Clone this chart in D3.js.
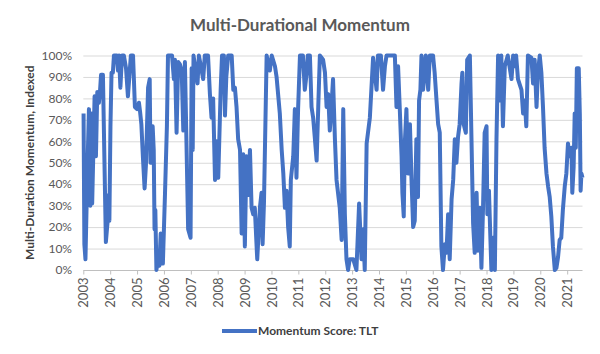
<!DOCTYPE html>
<html>
<head>
<meta charset="utf-8">
<script src="https://cdn.jsdelivr.net/npm/d3@7"></script>
<style>
  body { margin: 0; background: #fff; }
  svg { display: block; font-family: Lato, "Open Sans", sans-serif; }
</style>
</head>
<body>
<svg id="chart"></svg>
<script>
// weekly-ish readings of the TLT momentum score (decimal year, % score)
const years = [
  2003.01, 2003.04, 2003.08, 2003.14, 2003.21, 2003.26, 2003.30, 2003.33, 2003.42, 2003.47,
  2003.52, 2003.58, 2003.62, 2003.66, 2003.73, 2003.84, 2003.90, 2003.94, 2003.97, 2004.01,
  2004.05, 2004.10, 2004.14, 2004.25, 2004.29, 2004.33, 2004.38, 2004.44, 2004.51, 2004.59,
  2004.66, 2004.77, 2004.85, 2004.92, 2005.00, 2005.07, 2005.11, 2005.16, 2005.22, 2005.28,
  2005.33, 2005.41, 2005.47, 2005.50, 2005.58, 2005.62, 2005.65, 2005.68, 2005.72, 2005.78,
  2005.83, 2005.88, 2005.93, 2005.96, 2006.04, 2006.11, 2006.15, 2006.30, 2006.37, 2006.41,
  2006.47, 2006.53, 2006.59, 2006.66, 2006.72, 2006.78, 2006.90, 2006.99, 2007.03, 2007.07,
  2007.10, 2007.25, 2007.30, 2007.46, 2007.52, 2007.64, 2007.71, 2007.77, 2007.83, 2007.90,
  2007.95, 2008.02, 2008.11, 2008.16, 2008.23, 2008.27, 2008.32, 2008.39, 2008.52, 2008.58,
  2008.64, 2008.70, 2008.76, 2008.83, 2008.89, 2008.95, 2009.01, 2009.07, 2009.13, 2009.20,
  2009.26, 2009.32, 2009.38, 2009.47, 2009.57, 2009.63, 2009.67, 2009.72, 2009.82, 2009.94,
  2010.01, 2010.13, 2010.19, 2010.31, 2010.38, 2010.44, 2010.50, 2010.56, 2010.62, 2010.68,
  2010.72, 2010.81, 2010.87, 2010.93, 2010.99, 2011.06, 2011.17, 2011.24, 2011.31, 2011.35,
  2011.43, 2011.49, 2011.55, 2011.61, 2011.68, 2011.74, 2011.80, 2011.92, 2011.99, 2012.05,
  2012.11, 2012.17, 2012.23, 2012.29, 2012.36, 2012.42, 2012.54, 2012.61, 2012.67, 2012.73,
  2012.79, 2012.85, 2012.91, 2013.04, 2013.16, 2013.26, 2013.35, 2013.41, 2013.47, 2013.54,
  2013.66, 2013.78, 2013.91, 2013.96, 2014.07, 2014.15, 2014.22, 2014.28, 2014.59, 2014.65,
  2014.71, 2014.77, 2014.84, 2014.87, 2014.92, 2014.96, 2015.02, 2015.08, 2015.15, 2015.21,
  2015.27, 2015.33, 2015.39, 2015.45, 2015.49, 2015.54, 2015.58, 2015.64, 2015.74, 2015.83,
  2015.89, 2016.01, 2016.07, 2016.14, 2016.20, 2016.26, 2016.32, 2016.38, 2016.45, 2016.51,
  2016.57, 2016.63, 2016.70, 2016.76, 2016.82, 2016.88, 2016.94, 2017.00, 2017.07, 2017.10,
  2017.15, 2017.23, 2017.28, 2017.38, 2017.44, 2017.50, 2017.56, 2017.63, 2017.68, 2017.75,
  2017.81, 2017.87, 2017.93, 2018.00, 2018.03, 2018.09, 2018.18, 2018.24, 2018.31, 2018.37,
  2018.43, 2018.49, 2018.55, 2018.61, 2018.68, 2018.79, 2018.93, 2018.99, 2019.05, 2019.10,
  2019.17, 2019.30, 2019.36, 2019.42, 2019.48, 2019.54, 2019.67, 2019.73, 2019.79, 2019.86,
  2019.91, 2019.98, 2020.04, 2020.10, 2020.16, 2020.23, 2020.29, 2020.35, 2020.41, 2020.47,
  2020.54, 2020.60, 2020.66, 2020.72, 2020.78, 2020.84, 2020.91, 2020.97, 2021.03, 2021.09,
  2021.16, 2021.19, 2021.24, 2021.28, 2021.32, 2021.36, 2021.43, 2021.47, 2021.50, 2021.53,
  2021.57
];
const scores = [
  73, 12, 5, 40, 75, 30, 73, 31, 81, 53,
  83, 78, 83, 91, 91, 13, 22, 35, 23, 67,
  92, 92, 100, 100, 93, 100, 85, 100, 100, 94,
  81, 100, 100, 76, 75, 78, 74, 68, 52, 38,
  49, 85, 89, 50, 67, 56, 19, 28, 0, 5,
  2, 17, 3, 3, 36, 67, 100, 100, 89, 98,
  64, 97, 96, 93, 65, 97, 19, 15, 94, 56,
  100, 87, 100, 89, 100, 100, 82, 71, 80, 42,
  60, 43, 84, 100, 100, 72, 90, 100, 100, 84,
  85, 76, 61, 56, 17, 54, 11, 53, 35, 56,
  29, 26, 29, 5, 29, 36, 12, 31, 100, 93,
  100, 95, 90, 73, 56, 45, 29, 37, 20, 11,
  42, 53, 75, 43, 75, 100, 100, 84, 92, 100,
  100, 76, 71, 62, 51, 76, 100, 98, 92, 76,
  82, 65, 76, 89, 61, 42, 29, 14, 75, 26,
  5, 0, 5, 5, 0, 31, 5, 19, 0, 59,
  71, 99, 84, 100, 100, 84, 95, 100, 100, 76,
  95, 76, 53, 36, 25, 59, 75, 45, 68, 42,
  20, 23, 61, 34, 79, 84, 100, 84, 100, 84,
  100, 100, 92, 79, 68, 64, 11, 0, 12, 8,
  26, 5, 33, 42, 61, 50, 62, 68, 87, 92,
  68, 64, 98, 100, 61, 22, 8, 36, 9, 29,
  1, 29, 64, 67, 26, 37, 0, 15, 0, 61,
  100, 79, 100, 67, 95, 100, 89, 100, 95, 100,
  89, 84, 73, 79, 67, 100, 99, 87, 98, 76,
  92, 100, 92, 76, 57, 45, 39, 34, 25, 11,
  0, 1, 6, 14, 15, 28, 39, 45, 59, 53,
  57, 36, 48, 73, 57, 94, 94, 73, 37, 45,
  43
];
const yearTicks = d3.range(2003, 2022);
const pctTicks = d3.range(0, 101, 10);
const seriesName = "Momentum Score: TLT";

const width = 600, height = 354;
const margin = { top: 55.5, right: 17.5, bottom: 84, left: 83.3 };
const blue = "#4472C4";

const svg = d3.select("#chart").attr("width", width).attr("height", height);

const x = d3.scaleLinear()
  .domain([2003, years[years.length - 1]])
  .range([margin.left, width - margin.right]);
const y = d3.scaleLinear()
  .domain([0, 100])
  .range([height - margin.bottom, margin.top]);

// title
svg.append("text")
  .attr("x", 300).attr("y", 31)
  .attr("text-anchor", "middle")
  .attr("font-size", 17).attr("font-weight", "bold")
  .attr("fill", "#595959")
  .text("Multi-Durational Momentum");

// gridlines
svg.append("g")
  .selectAll("line")
  .data(pctTicks.filter(d => d > 0))
  .join("line")
  .attr("x1", x.range()[0]).attr("x2", x.range()[1])
  .attr("y1", d => y(d) + 0.5).attr("y2", d => y(d) + 0.5)
  .attr("stroke", "#d9d9d9").attr("stroke-width", 1);

// y axis labels
svg.append("g")
  .selectAll("text")
  .data(pctTicks)
  .join("text")
  .attr("x", 72).attr("y", d => y(d))
  .attr("dy", "0.35em")
  .attr("text-anchor", "end")
  .attr("font-size", 12)
  .attr("fill", "#595959")
  .text(d => d + "%");

// x axis
const xAxis = svg.append("g")
  .attr("transform", `translate(0,${y(0) + 0.5})`)
  .call(d3.axisBottom(x).tickValues(yearTicks).tickSize(4).tickFormat(d3.format("d")));
xAxis.select(".domain").attr("stroke", "#bfbfbf")
  .attr("d", `M${x.range()[0]},0H${x.range()[1]}`);
xAxis.selectAll(".tick line").attr("stroke", "#bfbfbf");
xAxis.selectAll(".tick text")
  .attr("font-family", "Lato, sans-serif")
  .attr("font-size", 13)
  .attr("fill", "#595959")
  .attr("transform", "rotate(-90)")
  .attr("text-anchor", "end")
  .attr("x", -7).attr("y", 0).attr("dy", "0.35em");

// y axis title
svg.append("text")
  .attr("transform", `translate(34,${(y(0) + y(100)) / 2}) rotate(-90)`)
  .attr("text-anchor", "middle")
  .attr("font-size", 12).attr("font-weight", "bold")
  .attr("fill", "#404040")
  .text("Multi-Duration Momentum, Indexed");

// the series
const line = d3.line()
  .x((d, i) => x(years[i]))
  .y(d => y(d));

svg.append("path")
  .datum(scores)
  .attr("d", line)
  .attr("fill", "none")
  .attr("stroke", blue)
  .attr("stroke-width", 4)
  .attr("stroke-linejoin", "round");

// legend
const legend = svg.append("g").attr("transform", "translate(222,331)");
legend.append("line")
  .attr("x1", 0).attr("x2", 35)
  .attr("stroke", blue).attr("stroke-width", 4);
legend.append("text")
  .attr("x", 36).attr("dy", "0.35em")
  .attr("font-size", 12).attr("font-weight", "bold")
  .attr("fill", "#404040")
  .text(seriesName);
</script>
</body>
</html>
